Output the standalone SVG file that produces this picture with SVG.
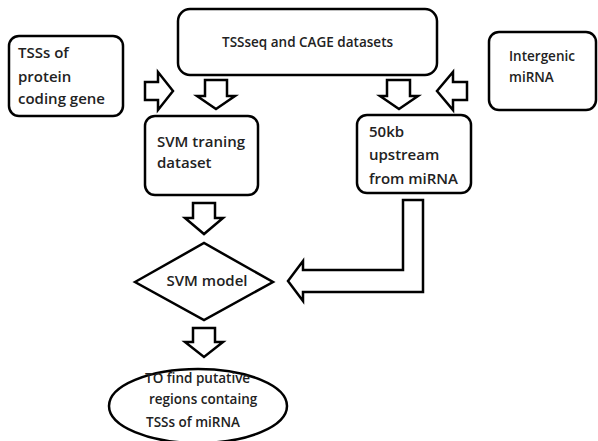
<svg xmlns="http://www.w3.org/2000/svg" width="598" height="441" viewBox="0 0 598 441">
<style>
.box{fill:#fff;stroke:#000;stroke-width:2.5}
.arr{fill:#fff;stroke:#000;stroke-width:2.5;stroke-linejoin:miter}
.t{font-family:"Open Sans","Liberation Sans",sans-serif;font-size:13.5px;font-weight:600;fill:#222}
.b{font-size:15px}
</style>
<rect width="598" height="441" fill="#fff"/>
<g id="tss-protein">
<rect class="box" x="9" y="36" width="114" height="80" rx="10"/>
<text class="t b" x="18" y="58">TSSs of</text>
<text class="t b" x="18" y="82">protein</text>
<text class="t b" x="18" y="104">coding gene</text>
</g>
<g id="tssseq-cage">
<rect class="box" x="178" y="9" width="259" height="66" rx="12"/>
<text class="t" x="222" y="47">TSSseq and CAGE datasets</text>
</g>
<g id="intergenic">
<rect class="box" x="489" y="32" width="107" height="78" rx="10"/>
<text class="t" x="509" y="61">Intergenic</text>
<text class="t" x="509" y="82">miRNA</text>
</g>
<g id="svm-training">
<rect class="box" x="145" y="116" width="113" height="79" rx="10"/>
<text class="t b" x="157" y="147">SVM traning</text>
<text class="t b" x="157" y="168">dataset</text>
</g>
<g id="upstream">
<rect class="box" x="357" y="115" width="114" height="78" rx="10"/>
<text class="t b" x="369" y="137">50kb</text>
<text class="t b" x="369" y="160">upstream</text>
<text class="t b" x="369" y="184">from miRNA</text>
</g>
<g id="svm-model">
<polygon class="box" points="135,282 204,243 273,282 204,320"/>
<text class="t b" x="207" y="286" text-anchor="middle">SVM model</text>
</g>
<g id="result">
<ellipse class="box" cx="198" cy="406" rx="89" ry="37"/>
<text class="t" x="145" y="383">TO find putative</text>
<text class="t" x="149" y="404">regions containg</text>
<text class="t" x="146" y="427">TSSs of miRNA</text>
</g>
<g id="connectors">
<polygon class="arr" points="145,82 158,82 158,72 173,91 158,110 158,100 145,100"/>
<polygon class="arr" points="205,80 227,80 227,96 235,96 216,109 197,96 205,96"/>
<polygon class="arr" points="387,80 410,80 410,96 418,96 399,109 380,96 387,96"/>
<polygon class="arr" points="467,82 453,82 453,72 437,91 453,110 453,100 467,100"/>
<polygon class="arr" points="193,203 215,203 215,218 223,218 204,234 185,218 193,218"/>
<polygon class="arr" points="193,328 215,328 215,342 223,342 204,357 185,342 193,342"/>
<polygon class="arr" points="403,200 423,200 423,292 303,292 303,301 288,281 303,261 303,270 403,270"/>
</g>
</svg>
